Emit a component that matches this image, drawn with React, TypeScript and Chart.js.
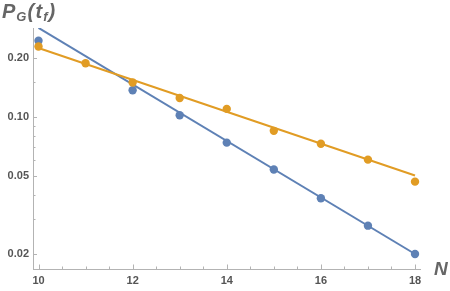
import React, { useEffect, useRef } from "react";
import { Chart, registerables } from "chart.js";

Chart.register(...registerables);

const nValues = [10, 11, 12, 13, 14, 15, 16, 17, 18];
const blueValues: (number | null)[] = [0.245, null, 0.137, 0.102, 0.074, 0.054, 0.0385, 0.0279, 0.02];
const orangeValues = [0.229, 0.188, 0.15, 0.125, 0.11, 0.085, 0.073, 0.0606, 0.0468];
const fitN = [10, 18];
const blueFit = [0.285, 0.02];
const orangeFit = [0.225, 0.0503];
const xTickValues = [10, 12, 14, 16, 18];
const xMinorTicks = [10.5, 11, 11.5, 12.5, 13, 13.5, 14.5, 15, 15.5, 16.5, 17, 17.5];
const yTickValues = [0.02, 0.05, 0.1, 0.2];
const yMinorTicks = [0.03, 0.04, 0.06, 0.07, 0.08, 0.09, 0.15];

const BLUE = "#5E81B5";
const ORANGE = "#E19C24";
const AXIS = "#b3b3b3";
const LABEL = "#555555";
const TITLE = "#666666";

const decorPlugin = {
  id: "decor",
  afterDraw(chart: any) {
    const ctx = chart.ctx as CanvasRenderingContext2D;
    const xs = chart.scales.x;
    const ys = chart.scales.y;
    const area = chart.chartArea;
    ctx.save();
    ctx.strokeStyle = AXIS;
    ctx.lineWidth = 1;
    const drawX = (v: number, len: number) => {
      const px = Math.round(xs.getPixelForValue(v)) + 0.5;
      ctx.beginPath();
      ctx.moveTo(px, area.bottom);
      ctx.lineTo(px, area.bottom - len);
      ctx.stroke();
    };
    const drawY = (v: number, len: number) => {
      const py = Math.round(ys.getPixelForValue(v)) + 0.5;
      ctx.beginPath();
      ctx.moveTo(area.left, py);
      ctx.lineTo(area.left + len, py);
      ctx.stroke();
    };
    xTickValues.forEach((v) => drawX(v, 4.5));
    xMinorTicks.forEach((v) => drawX(v, 2.5));
    yTickValues.forEach((v) => drawY(v, 4));
    yMinorTicks.forEach((v) => drawY(v, 2.5));

    // Axis labels
    ctx.fillStyle = TITLE;
    ctx.textBaseline = "alphabetic";
    ctx.textAlign = "left";
    const big = 'italic bold 20px "Liberation Sans"';
    const small = 'italic bold 13px "Liberation Sans"';
    let x = 2;
    const base = 18;
    const parts: [string, string, number][] = [
      ["P", big, 0],
      ["G", small, 3],
      ["(", big, 0],
      ["t", big, 0],
      ["f", small, 3],
      [")", big, 0],
    ];
    parts.forEach(([t, f, dy]) => {
      ctx.font = f;
      ctx.fillText(t, x, base + dy);
      x += ctx.measureText(t).width + (t === "(" ? 1.5 : 1);
    });
    ctx.font = 'italic bold 19px "Liberation Sans"';
    ctx.fillText("N", 434, 275);
    ctx.restore();
  },
};

export default function App() {
  const ref = useRef<HTMLCanvasElement | null>(null);
  useEffect(() => {
    document.body.style.margin = "0";
    const canvas = ref.current;
    if (!canvas) return;
    const chart = new Chart(canvas, {
      type: "scatter",
      data: {
        datasets: [
          {
            label: "orange",
            data: nValues.map((n, i) => ({ x: n, y: orangeValues[i] })),
            backgroundColor: ORANGE,
            borderWidth: 0,
            pointRadius: 4.2,
            showLine: false,
          },
          {
            label: "blue",
            data: nValues.map((n, i) => ({ x: n, y: blueValues[i] as any })),
            backgroundColor: BLUE,
            borderWidth: 0,
            pointRadius: 4.2,
            showLine: false,
          },
          {
            label: "orange fit",
            data: fitN.map((n, i) => ({ x: n, y: orangeFit[i] })),
            borderColor: ORANGE,
            borderWidth: 2,
            pointRadius: 0,
            showLine: true,
          },
          {
            label: "blue fit",
            data: fitN.map((n, i) => ({ x: n, y: blueFit[i] })),
            borderColor: BLUE,
            borderWidth: 2,
            pointRadius: 0,
            showLine: true,
          },
        ],
      },
      options: {
        animation: false,
        responsive: false,
        events: [],
        layout: { padding: { top: 28, right: 30, left: 0, bottom: 0 } },
        plugins: { legend: { display: false }, tooltip: { enabled: false }, title: { display: false } },
        scales: {
          x: {
            type: "linear",
            min: 9.8831,
            max: 18.106,
            afterBuildTicks: (s: any) => {
              s.ticks = xTickValues.map((v) => ({ value: v }));
            },
            afterFit: (s: any) => {
              s.height = 22;
            },
            ticks: {
              color: LABEL,
              font: { family: '"Liberation Sans"', size: 11, weight: "bold" },
              padding: 5,
              maxRotation: 0,
              callback: (v: any) => String(v),
            },
            grid: { display: false, drawTicks: false },
            border: { display: true, color: AXIS, width: 1 },
          },
          y: {
            type: "logarithmic",
            min: 0.01677,
            max: 0.2845,
            afterBuildTicks: (s: any) => {
              s.ticks = yTickValues.map((v) => ({ value: v }));
            },
            afterFit: (s: any) => {
              s.width = 33;
            },
            ticks: {
              color: LABEL,
              font: { family: '"Liberation Sans"', size: 11, weight: "bold" },
              padding: 4,
              callback: (v: any) => Number(v).toFixed(2),
            },
            grid: { display: false, drawTicks: false },
            border: { display: true, color: AXIS, width: 1 },
          },
        },
      },
      plugins: [decorPlugin],
    });
    return () => chart.destroy();
  }, []);
  return (
    <div style={{ width: 450, height: 291 }}>
      <canvas ref={ref} width={450} height={291} style={{ display: "block" }} />
    </div>
  );
}
